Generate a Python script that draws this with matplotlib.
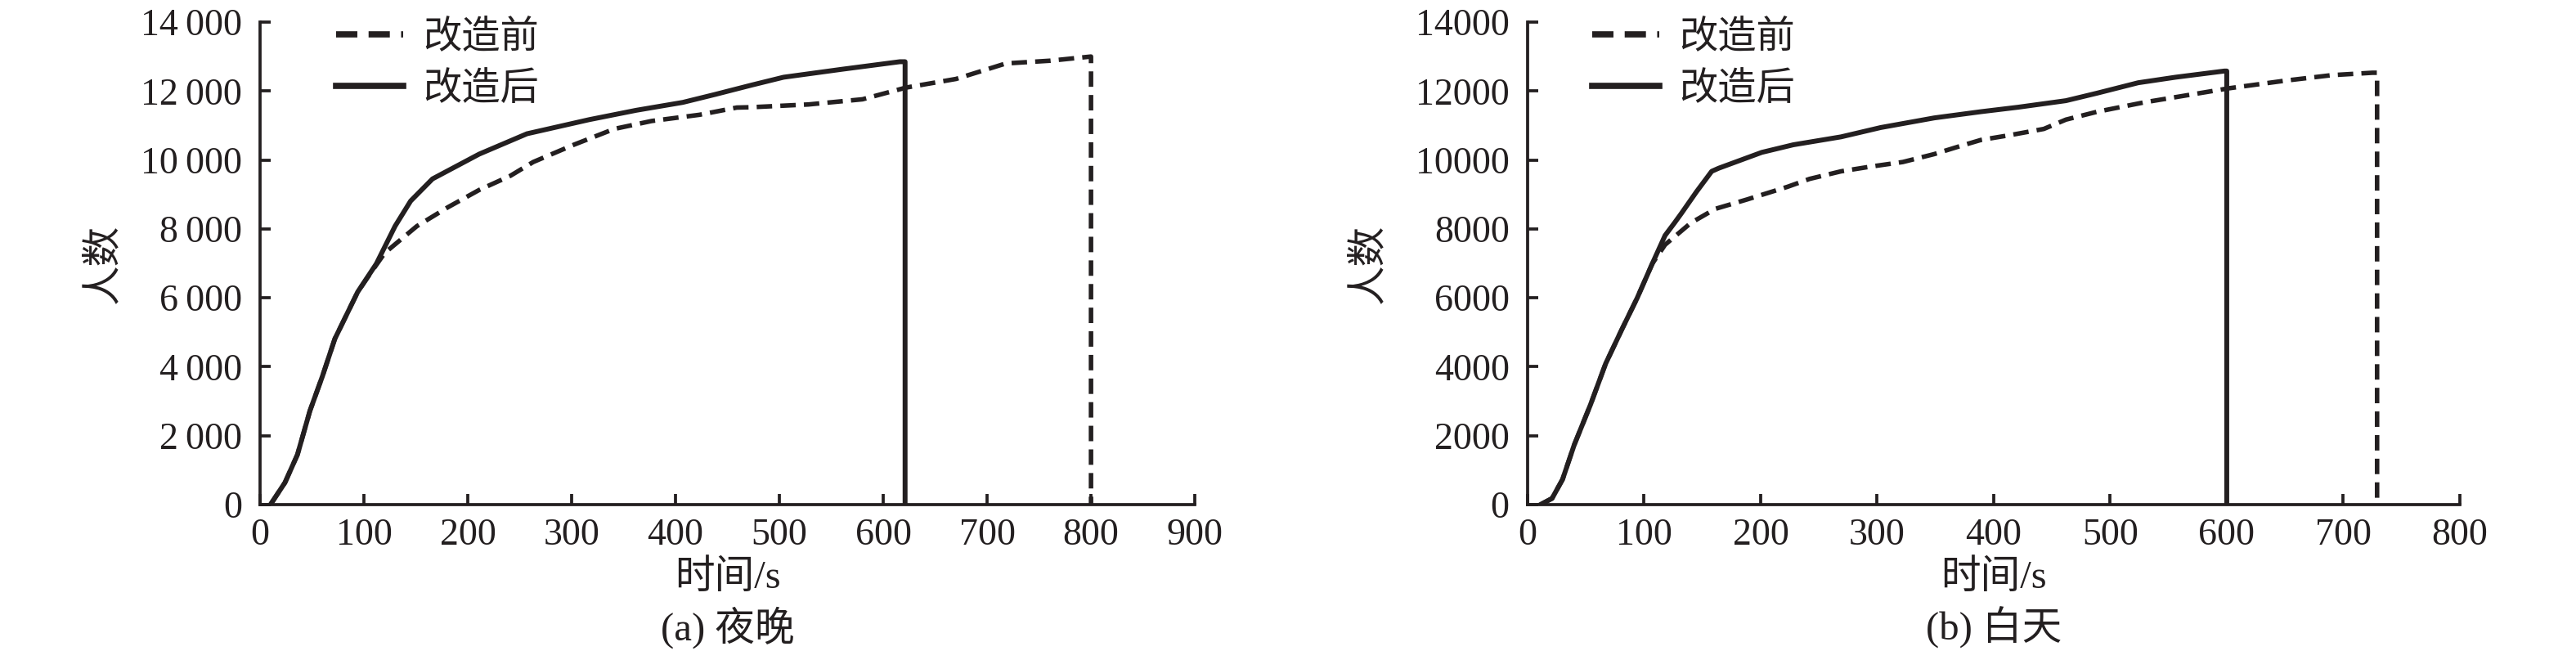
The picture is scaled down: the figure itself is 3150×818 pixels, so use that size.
import matplotlib
matplotlib.use("Agg")
import matplotlib.pyplot as plt

# (a) 夜晚 -- time (s) and number of evacuees
night_before_t = [10, 24, 36, 48, 60, 72, 94, 106, 120, 151, 181, 211, 241, 263, 302, 341,
                  377, 423, 459, 473, 528, 580, 622, 670, 700, 718, 761, 800, 800]
night_before_n = [0, 640, 1450, 2720, 3720, 4810, 6170, 6700, 7300, 8080, 8630, 9130, 9540,
                  9940, 10440, 10900, 11130, 11310, 11520, 11530, 11610, 11760, 12100, 12350,
                  12630, 12800, 12880, 13000, 0]
night_after_t = [10, 24, 36, 48, 60, 72, 94, 112, 130, 145, 166, 211, 257, 317, 362, 407,
                 438, 473, 504, 560, 616, 621, 621]
night_after_n = [0, 640, 1450, 2720, 3720, 4810, 6170, 6990, 8080, 8810, 9450, 10170, 10760,
                 11170, 11440, 11670, 11900, 12170, 12400, 12630, 12850, 12850, 0]

# (b) 白天
day_before_t = [11, 21, 30, 40, 54, 67, 81, 94, 107, 118, 140, 161, 188, 223, 242, 269, 295,
                322, 349, 371, 389, 414, 443, 462, 489, 529, 570, 602, 650, 690, 725, 729, 729]
day_before_n = [0, 180, 730, 1730, 2900, 4090, 5090, 5990, 6990, 7540, 8170, 8580, 8850, 9220,
                9450, 9670, 9810, 9940, 10170, 10400, 10580, 10720, 10900, 11170, 11400, 11670,
                11900, 12080, 12300, 12460, 12530, 12530, 0]
day_after_t = [11, 21, 30, 40, 54, 67, 81, 94, 107, 118, 126, 132, 145, 158, 164, 201, 228,
               269, 303, 349, 389, 421, 462, 489, 524, 556, 598, 600, 600]
day_after_n = [0, 180, 730, 1730, 2900, 4090, 5090, 5990, 6990, 7810, 8170, 8450, 9080, 9670,
               9760, 10220, 10440, 10670, 10940, 11220, 11400, 11530, 11720, 11940, 12240, 12400,
               12580, 12580, 0]

y_ticks = [0, 2000, 4000, 6000, 8000, 10000, 12000, 14000]
night_ytick_labels = ["0", "2\u2009000", "4\u2009000", "6\u2009000", "8\u2009000",
                      "10\u2009000", "12\u2009000", "14\u2009000"]
day_ytick_labels = ["0", "2000", "4000", "6000", "8000", "10000", "12000", "14000"]
night_x_ticks = [0, 100, 200, 300, 400, 500, 600, 700, 800, 900]
day_x_ticks = [0, 100, 200, 300, 400, 500, 600, 700, 800]

labels = ["改造前", "改造后"]
captions = ["(a) 夜晚", "(b) 白天"]

INK = "#231f20"
NUM_FONT = ["Liberation Serif", "DejaVu Serif"]
CJK_FONT = ["Liberation Serif", "Noto Sans CJK SC", "DejaVu Sans"]


def draw_panel(fig, rect, before, after, x_ticks, ytick_labels, caption, legend_x, ylabel_x):
    ax = fig.add_axes(rect)
    ax.plot(before[0], before[1], color=INK, lw=4.0, dashes=(3.4, 1.8), label=labels[0])
    ax.plot(after[0], after[1], color=INK, lw=4.3, label=labels[1])

    ax.set_xlim(0, x_ticks[-1])
    ax.set_ylim(0, 14000)
    ax.set_xticks(x_ticks)
    ax.set_xticklabels([str(t) for t in x_ticks], family=NUM_FONT, fontsize=33)
    ax.set_yticks(y_ticks)
    ax.set_yticklabels(ytick_labels, family=NUM_FONT, fontsize=33)
    ax.tick_params(direction="in", length=9.5, width=2.7, color=INK, labelcolor=INK)
    ax.tick_params(axis="y", pad=16)
    ax.tick_params(axis="x", pad=12)
    for side in ["top", "right"]:
        ax.spines[side].set_visible(False)
    for side in ["left", "bottom"]:
        ax.spines[side].set_linewidth(2.7)
        ax.spines[side].set_color(INK)

    ax.set_xlabel("时间/s", family=CJK_FONT, fontsize=35, color=INK, labelpad=6)
    ax.text(ylabel_x, 0.5, "人数", transform=ax.transAxes, rotation=90, ha="center",
            va="center", family=CJK_FONT, fontsize=35, color=INK)
    ax.text(0.5, -0.255, caption, transform=ax.transAxes, ha="center", va="center",
            family=CJK_FONT, fontsize=35, color=INK)

    leg = ax.legend(loc="upper left", bbox_to_anchor=(legend_x, 1.003), frameon=False,
                    prop={"family": CJK_FONT, "size": 34}, handlelength=1.75,
                    handletextpad=0.5, labelspacing=0.4, borderpad=0, borderaxespad=0)
    for t in leg.get_texts():
        t.set_color(INK)
    for line in leg.get_lines():
        line.set_linewidth(5.5)
    return ax


fig = plt.figure(figsize=(31.5, 8.18), dpi=100)
draw_panel(fig, [0.10095, 0.2457, 0.3629, 0.7213],
           (night_before_t, night_before_n), (night_after_t, night_after_n),
           night_x_ticks, night_ytick_labels, captions[0], 0.081, -0.167)
draw_panel(fig, [0.5930, 0.2457, 0.3619, 0.7213],
           (day_before_t, day_before_n), (day_after_t, day_after_n),
           day_x_ticks, day_ytick_labels, captions[1], 0.069, -0.170)

fig.savefig("out.png", dpi=100, facecolor="white")
